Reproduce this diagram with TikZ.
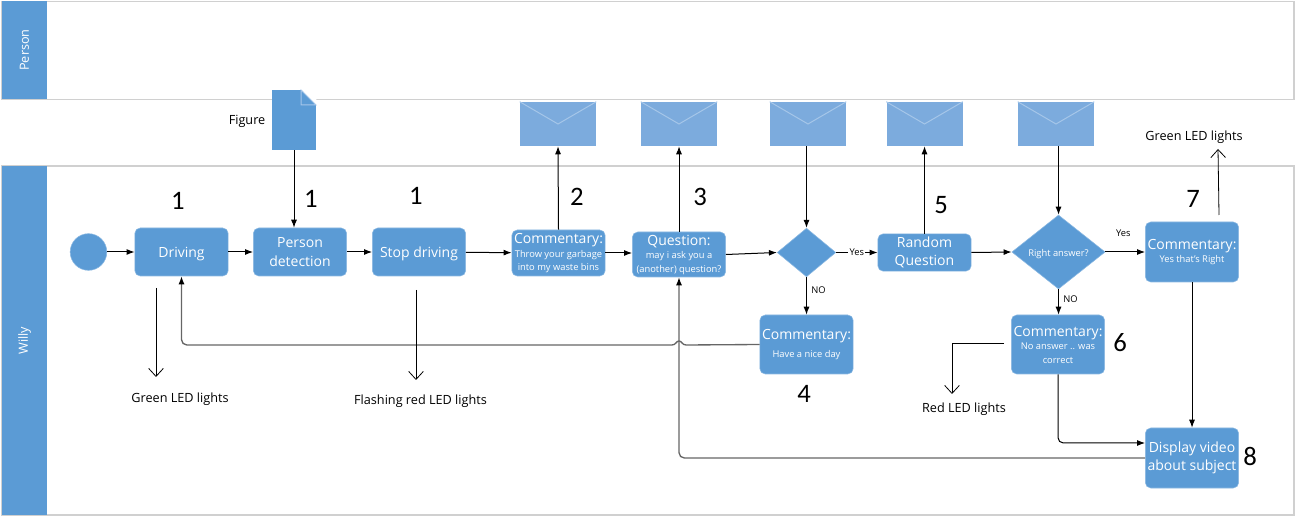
\documentclass[tikz,border=0pt]{standalone}
\usepackage{fontspec}
\setmainfont{Open Sans}
\newfontfamily\numfont{Carlito}
\usetikzlibrary{arrows.meta, shapes.geometric}
\newcommand{\bigtxt}{\fontsize{10.5}{14}\selectfont}
\newcommand{\smalltxt}{\fontsize{7}{10}\selectfont}
\definecolor{willyblue}{HTML}{5B9BD5}
\definecolor{mailblue}{HTML}{7CABDD}
\definecolor{flapblue}{HTML}{A5C6E9}
\definecolor{laneline}{HTML}{D0D0D0}
\definecolor{loopgrey}{HTML}{666666}
\tikzset{
  lanebox/.style={draw=laneline, line width=1pt},
  lanehead/.style={fill=willyblue, text=white, rotate=90, minimum height=33.75pt, inner sep=0pt, font=\fontsize{9.5}{12}\selectfont},
  flowbox/.style={fill=willyblue, draw=willyblue!70!white, rounded corners=4pt, text=white, align=center, minimum width=70pt, inner sep=0pt, font=\bigtxt, execute at begin node={\rule{0pt}{10.5pt}}},
  choice/.style={diamond, fill=willyblue, draw=willyblue!70!white, text=white, inner sep=0pt, aspect=1.25, font=\smalltxt, execute at begin node={\rule{0pt}{9pt}}},
  mailbox/.style={fill=mailblue, minimum width=57pt, minimum height=33pt, inner sep=0pt},
  flow/.style={-{Latex[length=6pt,width=4.5pt]}, line width=0.75pt},
  loopline/.style={-{Latex[length=6pt,width=4.5pt,color=black]}, line width=1pt, color=loopgrey},
  ledline/.style={-{Straight Barb[length=6pt,width=11pt]}, line width=0.6pt},
  note/.style={font=\fontsize{9.5}{12}\selectfont},
  tiny note/.style={font=\fontsize{7}{9}\selectfont},
  num/.style={font=\numfont\fontsize{20}{24}\selectfont}
}
\begin{document}
\begin{tikzpicture}[x=0.75pt, y=-0.75pt]
  \useasboundingbox (0,0) rectangle (1296,516);
  \draw[lanebox] (2,1.5) rectangle (1294,99.5);
  \draw[lanebox] (2,166) rectangle (1294,515);
  \node[lanehead, minimum width=73.5pt] (personhead) at (24.5,50) {Person};
  \node[lanehead, minimum width=261.75pt] (willyhead) at (24.5,340.5) {Willy};

  \node[fill=willyblue, minimum width=33pt, minimum height=45pt, inner sep=0pt] (figdoc) at (294,120) {};
  \fill[white] (figdoc.north east) -- ++(-11.25pt,0) -- (figdoc.north east |- 0,105) -- cycle;
  \draw[flapblue, fill=willyblue, line width=0.75pt] (301,90) -- (301,105) -- (316,105) -- cycle;
  \node[note, left=0pt] (figlabel) at (270,121) {Figure};

  \foreach \n/\x in {a/558, b/679, c/808, d/924.5, e/1056} {
    \node[mailbox] (mail\n) at (\x,124) {};
    \draw[flapblue, line width=0.75pt] (mail\n.north west) -- (\x,124) -- (mail\n.north east);
  }

  \node[circle, fill=willyblue, draw=willyblue!70!white, minimum size=27.5pt, inner sep=0pt] (start) at (88.5,252) {};
  \node[flowbox, minimum height=36pt] (driving) at (181.5,252) {Driving};
  \node[flowbox, minimum height=36pt] (persondet) at (300,252) {Person\\detection};
  \node[flowbox, minimum height=36pt] (stopdrive) at (419,252) {Stop driving};
  \node[flowbox, minimum height=34.5pt] (garbage) at (558.5,253) {Commentary:\\[-3.75pt]\smalltxt Throw your garbage\\[-4pt]\smalltxt into my waste bins};
  \node[flowbox, minimum height=33.75pt] (question) at (679,254.5) {Question:\\[-3.75pt]\smalltxt may i ask you a\\[-4pt]\smalltxt (another) question?};
  \node[choice, minimum width=44pt, minimum height=36.5pt] (firstchoice) at (806.5,252.5) {};
  \node[flowbox, minimum height=28pt] (randomq) at (924.5,252.5) {Random\\Question};
  \node[choice, minimum width=70pt, minimum height=55.5pt] (rightchoice) at (1058.5,252) {Right answer?};
  \node[flowbox, minimum height=45pt] (yesright) at (1192,252) {Commentary:\\[-3.75pt]\smalltxt Yes that's Right};
  \node[flowbox, minimum height=44.25pt] (niceday) at (806.5,344.5) {Commentary:\\[-1pt]\smalltxt Have a nice day};
  \node[flowbox, minimum height=44.25pt] (wrong) at (1058,344.5) {Commentary:\\[-3.75pt]\smalltxt No answer .. was\\[-4pt]\smalltxt correct};
  \node[flowbox, minimum height=45pt] (video) at (1192,458) {Display video\\about subject};

  \node[num] (numa) at (178,201) {1};
  \node[num] (numb) at (311,199) {1};
  \node[num] (numc) at (416,196) {1};
  \node[num] (numd) at (577,197) {2};
  \node[num] (nume) at (700,197) {3};
  \node[num] (numf) at (804,394) {4};
  \node[num] (numg) at (941,205) {5};
  \node[num] (numh) at (1120,343) {6};
  \node[num] (numi) at (1193,198.5) {7};
  \node[num] (numj) at (1250,456) {8};

  \node[note] (greena) at (180,399) {Green LED lights};
  \node[note] (flashing) at (420.5,401) {Flashing red LED lights};
  \node[note] (redled) at (964,409) {Red LED lights};
  \node[note] (greenb) at (1194,137) {Green LED lights};
  \coordinate (greenastart) at (156,288);
  \coordinate (greenaend) at (156,377);
  \coordinate (flashstart) at (416,290);
  \coordinate (flashend) at (416,380);
  \coordinate (redstart) at (1004,343);
  \coordinate (redend) at (952,394);
  \coordinate (greenbstart) at (1219,215);
  \coordinate (greenbend) at (1218,149);

  \draw[flow] (start) -- (driving);
  \draw[flow] (driving) -- (persondet);
  \draw[flow] (persondet) -- (stopdrive);
  \draw[flow] (stopdrive) -- (garbage);
  \draw[flow] (garbage) -- (garbage -| question.west);
  \draw[flow] (question.east) -- (firstchoice.west);
  \draw[flow] (figdoc.south) -- (figdoc.south |- persondet.north);
  \draw[flow] (garbage.north) -- (maila.south);
  \draw[flow] (question.north) -- (mailb.south);
  \draw[flow] (mailc.south -| firstchoice.north) -- (firstchoice.north);
  \draw[flow] (randomq.north) -- (maild.south);
  \draw[flow] (maile.south -| rightchoice.north) -- (rightchoice.north);
  \draw[flow] (firstchoice.east) -- node[tiny note, fill=white, inner sep=1pt] (yesa) {Yes} (randomq.west |- firstchoice.east);
  \draw[flow] (firstchoice.south) -- node[tiny note, right=0pt, pos=0.34] (noa) {NO} (niceday.north);
  \draw[flow] (randomq.east) -- (rightchoice.west);
  \draw[flow] (rightchoice.east) -- node[tiny note, above=8pt, pos=0.45] (yesb) {Yes} (yesright.west);
  \draw[flow] (rightchoice.south) -- node[tiny note, right=0pt, pos=0.4] (nob) {NO} (wrong.north -| rightchoice.south);
  \draw[flow] (yesright.south) -- (video.north);
  \draw[flow, rounded corners=4pt] (wrong.south) |- (video.west |- 0,443);
  \draw[loopline, rounded corners=4pt] (video.west) -- (question.south |- video.west) -- (question.south);
  \draw[loopline] (niceday.west) -- (686,345) .. controls (682,345) and (682,341) .. (679,341) .. controls (676,341) and (676,345) .. (672,345) [rounded corners=4pt] -- (driving.south |- 0,345) -- (driving.south);

  \draw[ledline] (greenastart) -- (greenaend);
  \draw[ledline] (flashstart) -- (flashend);
  \draw[ledline] (redstart) -| (redend);
  \draw[ledline] (greenbstart) -- (greenbend);
\end{tikzpicture}
\end{document}
